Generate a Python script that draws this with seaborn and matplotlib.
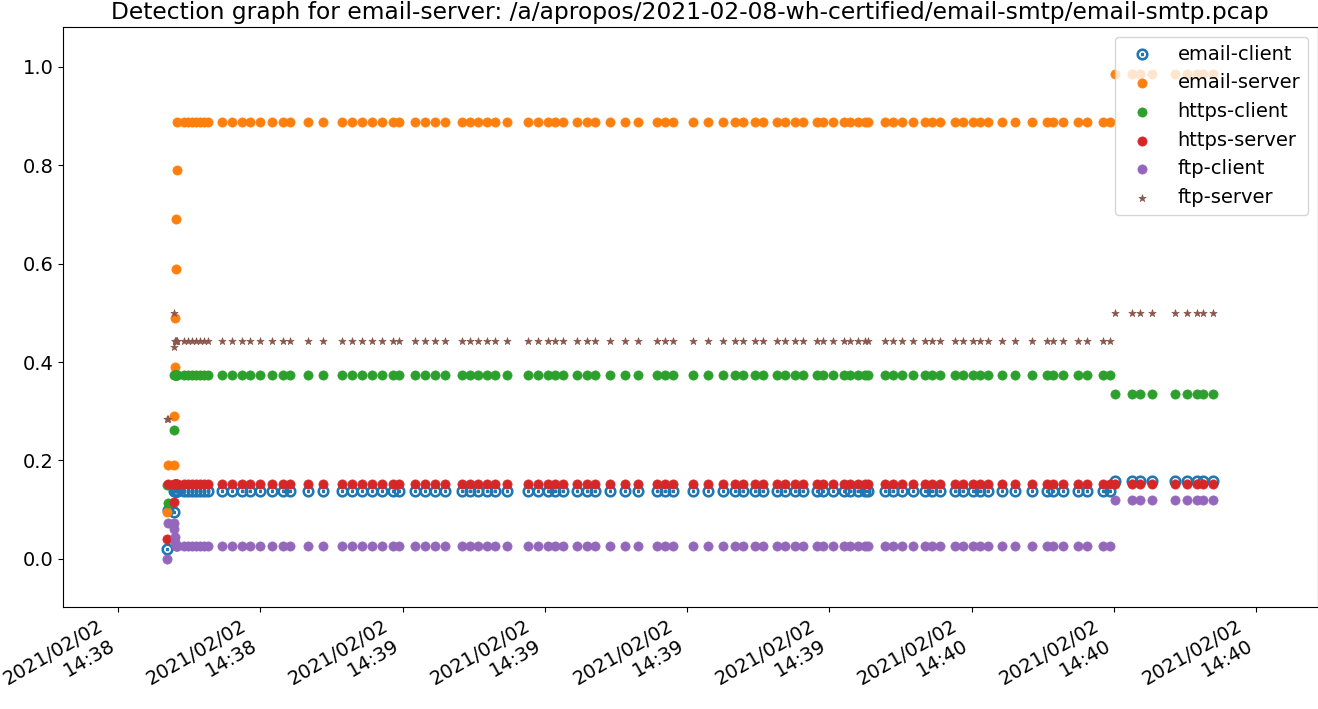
import pandas as pd
import seaborn as sns
import matplotlib.pyplot as plt
import matplotlib.dates as mdates

# classes, in drawing order
classes = ["email-client", "email-server", "https-client", "https-server", "ftp-client", "ftp-server"]
colors = ["#1f77b4", "#ff7f0e", "#2ca02c", "#d62728", "#9467bd", "#8c564b"]
markers = [r"$\odot$", "o", "o", "o", "o", "*"]

start = "2021-02-02 14:38:30"

# start-up ramp (seconds after start)
ramp_seconds = [5.2, 5.3, 5.9, 5.95, 6.0, 6.05, 6.1, 6.15, 6.2, 6.25]
ramp_email_client = [0.02, 0.10, 0.096, 0.138, 0.138, 0.138, 0.138, 0.138, 0.138, 0.138]
ramp_email_server = [0.096, 0.19, 0.19, 0.29, 0.39, 0.49, 0.59, 0.69, 0.79, 0.888]
ramp_https_client = [0.15, 0.114, 0.262, 0.374, 0.374, 0.374, 0.374, 0.374, 0.374, 0.374]
ramp_https_server = [0.04, 0.153, 0.115, 0.153, 0.153, 0.153, 0.153, 0.153, 0.153, 0.153]
ramp_ftp_client = [0.0, 0.073, 0.073, 0.06, 0.045, 0.035, 0.025, 0.025, 0.025, 0.025]
ramp_ftp_server = [0.285, 0.285, 0.43, 0.5, 0.443, 0.443, 0.443, 0.443, 0.443, 0.443]

# steady phase 1
phase1_seconds = [7.0, 7.4, 7.8, 8.2, 8.6, 9.1, 9.5, 11.0, 12.0, 13.1, 13.9, 15.0, 16.2, 17.4,
                  18.1, 20.0, 21.6, 23.6, 24.7, 25.7, 26.8, 27.8, 29.0, 29.6, 31.3, 32.4, 33.4,
                  34.5, 36.3, 37.1, 38.0, 38.9, 39.8, 41.0, 43.2, 44.3, 45.3, 46.1, 46.9, 48.4,
                  49.5, 50.3, 51.9, 53.5, 54.8, 56.8, 57.7, 58.5, 60.6, 62.2, 63.8, 65.1, 65.9,
                  67.2, 68.0, 69.5, 70.3, 71.4, 72.2, 73.7, 74.3, 75.4, 76.5, 77.2, 78.0, 78.8,
                  79.1, 80.9, 81.7, 82.7, 83.8, 85.1, 85.8, 86.7, 88.3, 89.1, 90.1, 90.9, 91.7,
                  93.2, 94.6, 96.4, 98.0, 98.6, 99.6, 101.2, 102.2, 103.9, 104.6]
phase1_level = [0.138, 0.887, 0.373, 0.153, 0.025, 0.443]

# steady phase 2
phase2_seconds = [105.1, 106.9, 107.8, 109.0, 111.5, 112.7, 113.8, 114.4, 115.5]
phase2_level = [0.158, 0.986, 0.335, 0.153, 0.12, 0.5]

ramp_values = [ramp_email_client, ramp_email_server, ramp_https_client,
               ramp_https_server, ramp_ftp_client, ramp_ftp_server]

rows = []
for i, name in enumerate(classes):
    for s, v in zip(ramp_seconds, ramp_values[i]):
        rows.append((name, s, v))
    for s in phase1_seconds:
        rows.append((name, s, phase1_level[i]))
    for s in phase2_seconds:
        rows.append((name, s, phase2_level[i]))
data = pd.DataFrame(rows, columns=["cls", "sec", "score"])
data["time"] = pd.Timestamp(start) + pd.to_timedelta(data["sec"], unit="s")

fig = plt.figure(figsize=(13.18, 7.09), dpi=100)
ax = fig.add_axes([0.0478, 0.1439, 0.952, 0.818])

for name, c, m in zip(classes, colors, markers):
    sub = data[data["cls"] == name]
    if m == "o":
        sns.scatterplot(data=sub, x="time", y="score", color=c, marker=m, s=44,
                        edgecolor=c, linewidth=0.5, label=name, ax=ax)
    elif m == "*":
        sns.scatterplot(data=sub, x="time", y="score", color=c, marker=m, s=30,
                        edgecolor=c, linewidth=0.5, label=name, ax=ax)
    else:
        sns.scatterplot(data=sub, x="time", y="score", color=c, marker=m, s=60,
                        edgecolor=c, linewidth=1.0, label=name, ax=ax)

ax.set_xlim(pd.Timestamp(start) - pd.Timedelta(seconds=5.8),
            pd.Timestamp(start) + pd.Timedelta(seconds=126.5))
ax.set_ylim(-0.098, 1.081)
ax.xaxis.set_major_locator(mdates.SecondLocator(bysecond=[0, 15, 30, 45]))
ax.xaxis.set_major_formatter(mdates.DateFormatter("%Y/%m/%d\n%H:%M"))
ax.set_xlabel("")
ax.set_ylabel("")
ax.tick_params(labelsize=14)
plt.setp(ax.get_xticklabels(), rotation=30, ha="right")

ax.legend(loc="upper right", fontsize=14)
ax.set_title("Detection graph for email-server: /a/apropos/2021-02-08-wh-certified/email-smtp/email-smtp.pcap",
             fontsize=16.8)

fig.savefig("out.png", dpi=100)
